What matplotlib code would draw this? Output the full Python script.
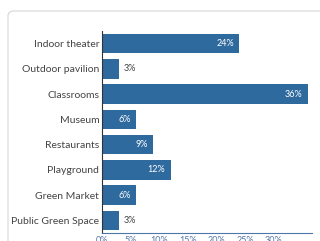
import matplotlib.pyplot as plt
from matplotlib.patches import FancyBboxPatch

categories = ['Indoor theater', 'Outdoor pavilion', 'Classrooms', 'Museum',
              'Restaurants', 'Playground', 'Green Market', 'Public Green Space']
values = [24, 3, 36, 6, 9, 12, 6, 3]
xticks = [0, 5, 10, 15, 20, 25, 30]

plt.rcParams['font.family'] = ['Lato', 'DejaVu Sans']
bar_color = '#2f6a9f'
text_color = '#444444'

fig = plt.figure(figsize=(3.2, 2.41), dpi=100)
# card background
card = FancyBboxPatch((8 / 320, -0.1), 1.2, 1.1 - 11 / 241,
                      boxstyle='round,pad=0,rounding_size=0.02',
                      transform=fig.transFigure, facecolor='white',
                      edgecolor='#d6d6d6', linewidth=0.8, zorder=-1)
fig.patches.append(card)

ax = fig.add_axes([102 / 320, 1 - 233 / 241, 210 / 320, 202 / 241])
ax.set_zorder(2)
ypos = list(range(len(categories)))
ax.barh(ypos, values, height=0.78, color=bar_color)
ax.set_ylim(len(categories) - 0.5, -0.5)
ax.set_xlim(0, 36.7)
ax.set_yticks(ypos)
ax.set_yticklabels(categories, fontsize=7.5, color=text_color)
ax.tick_params(axis='y', length=0, pad=2)
ax.set_xticks(xticks)
ax.set_xticklabels([f'{t}%' for t in xticks], fontsize=6.5, color='#5577aa')
ax.tick_params(axis='x', length=0, pad=2)
for s in ['top', 'right']:
    ax.spines[s].set_visible(False)
ax.spines['left'].set_color('#333333')
ax.spines['left'].set_linewidth(0.8)
ax.spines['bottom'].set_color('#4a78a8')
ax.spines['bottom'].set_linewidth(0.8)
ax.patch.set_alpha(0)

for y, v in zip(ypos, values):
    if v >= 5:
        ax.annotate(f'{v}%', (v, y), xytext=(-4, 0), textcoords='offset points',
                    ha='right', va='center', fontsize=6.5, color='white')
    else:
        ax.annotate(f'{v}%', (v, y), xytext=(3, 0), textcoords='offset points',
                    ha='left', va='center', fontsize=6.5, color=text_color)

fig.savefig('out.png', dpi=100)
